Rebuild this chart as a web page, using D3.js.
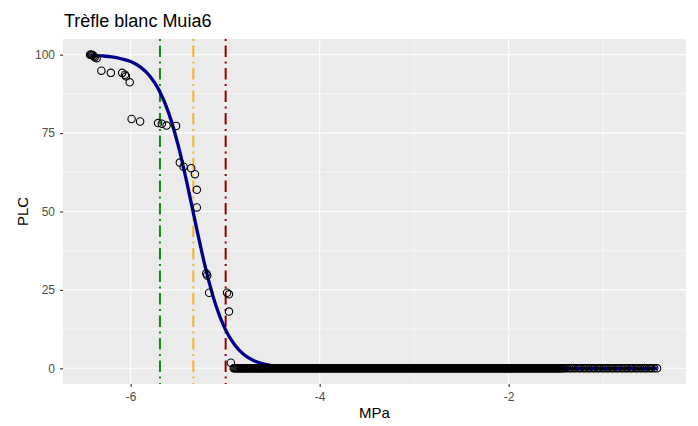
<!DOCTYPE html>
<html>
<head>
<meta charset="utf-8">
<script src="https://cdn.jsdelivr.net/npm/d3@7"></script>
<style>
  body { margin: 0; background: #fff; }
  text { font-family: "Liberation Sans", Arial, sans-serif; }
</style>
</head>
<body>
<div id="chart"></div>
<script>
// Width and height
var w = 698;
var h = 426;

// panel box
var pLeft = 63, pRight = 686, pTop = 39, pBottom = 384;

// observed points (MPa, PLC)
var obsX = [-6.43, -6.42, -6.41, -6.40, -6.39, -6.38, -6.36, -6.31, -6.21, -6.09, -6.06, -6.05, -6.01,
            -5.99, -5.90, -5.71, -5.67, -5.62, -5.52, -5.48, -5.44, -5.36, -5.32, -5.30, -5.30,
            -5.20, -5.19, -5.17, -4.98, -4.96, -4.96, -4.94];
var obsY = [100, 100, 100, 99.8, 99.5, 99.2, 98.9, 94.9, 94.2, 94.2, 93.6, 93.1, 91.2,
            79.5, 78.7, 78.2, 78.0, 77.4, 77.3, 65.6, 64.3, 63.8, 61.9, 56.9, 51.3,
            30.2, 29.6, 24.1, 24.1, 23.6, 18.1, 1.8];

// points with PLC = 0 (dense run, then a sparser tail)
var zeroX = [
  -4.91,-4.90,-4.89,-4.88,-4.87,-4.86,-4.85,-4.84,-4.83,-4.82,
  -4.81,-4.80,-4.79,-4.78,-4.77,-4.76,-4.75,-4.74,-4.73,-4.72,
  -4.71,-4.70,-4.69,-4.68,-4.67,-4.66,-4.65,-4.64,-4.63,-4.62,
  -4.61,-4.60,-4.59,-4.58,-4.57,-4.56,-4.55,-4.54,-4.53,-4.52,
  -4.51,-4.50,-4.49,-4.48,-4.47,-4.46,-4.45,-4.44,-4.43,-4.42,
  -4.41,-4.40,-4.39,-4.38,-4.37,-4.36,-4.35,-4.34,-4.33,-4.32,
  -4.31,-4.30,-4.29,-4.28,-4.27,-4.26,-4.25,-4.24,-4.23,-4.22,
  -4.21,-4.20,-4.19,-4.18,-4.17,-4.16,-4.15,-4.14,-4.13,-4.12,
  -4.11,-4.10,-4.09,-4.08,-4.07,-4.06,-4.05,-4.04,-4.03,-4.02,
  -4.01,-4.00,-3.99,-3.98,-3.97,-3.96,-3.95,-3.94,-3.93,-3.92,
  -3.91,-3.90,-3.89,-3.88,-3.87,-3.86,-3.85,-3.84,-3.83,-3.82,
  -3.81,-3.80,-3.79,-3.78,-3.77,-3.76,-3.75,-3.74,-3.73,-3.72,
  -3.71,-3.70,-3.69,-3.68,-3.67,-3.66,-3.65,-3.64,-3.63,-3.62,
  -3.61,-3.60,-3.59,-3.58,-3.57,-3.56,-3.55,-3.54,-3.53,-3.52,
  -3.51,-3.50,-3.49,-3.48,-3.47,-3.46,-3.45,-3.44,-3.43,-3.42,
  -3.41,-3.40,-3.39,-3.38,-3.37,-3.36,-3.35,-3.34,-3.33,-3.32,
  -3.31,-3.30,-3.29,-3.28,-3.27,-3.26,-3.25,-3.24,-3.23,-3.22,
  -3.21,-3.20,-3.19,-3.18,-3.17,-3.16,-3.15,-3.14,-3.13,-3.12,
  -3.11,-3.10,-3.09,-3.08,-3.07,-3.06,-3.05,-3.04,-3.03,-3.02,
  -3.01,-3.00,-2.99,-2.98,-2.97,-2.96,-2.95,-2.94,-2.93,-2.92,
  -2.91,-2.90,-2.89,-2.88,-2.87,-2.86,-2.85,-2.84,-2.83,-2.82,
  -2.81,-2.80,-2.79,-2.78,-2.77,-2.76,-2.75,-2.74,-2.73,-2.72,
  -2.71,-2.70,-2.69,-2.68,-2.67,-2.66,-2.65,-2.64,-2.63,-2.62,
  -2.61,-2.60,-2.59,-2.58,-2.57,-2.56,-2.55,-2.54,-2.53,-2.52,
  -2.51,-2.50,-2.49,-2.48,-2.47,-2.46,-2.45,-2.44,-2.43,-2.42,
  -2.41,-2.40,-2.39,-2.38,-2.37,-2.36,-2.35,-2.34,-2.33,-2.32,
  -2.31,-2.30,-2.29,-2.28,-2.27,-2.26,-2.25,-2.24,-2.23,-2.22,
  -2.21,-2.20,-2.19,-2.18,-2.17,-2.16,-2.15,-2.14,-2.13,-2.12,
  -2.11,-2.10,-2.09,-2.08,-2.07,-2.06,-2.05,-2.04,-2.03,-2.02,
  -2.01,-2.00,-1.99,-1.98,-1.97,-1.96,-1.95,-1.94,-1.93,-1.92,
  -1.91,-1.90,-1.89,-1.88,-1.87,-1.86,-1.85,-1.84,-1.83,-1.82,
  -1.81,-1.80,-1.79,-1.78,-1.77,-1.76,-1.75,-1.74,-1.73,-1.72,
  -1.71,-1.70,-1.69,-1.68,-1.67,-1.66,-1.65,-1.64,-1.63,-1.62,
  -1.61,-1.60,-1.59,-1.58,-1.57,-1.56,-1.55,-1.54,-1.53,-1.52,
  -1.51,-1.50,-1.49,-1.48,-1.47,-1.46,-1.45,-1.44,-1.43,
  -1.41,-1.39,-1.36,-1.34,-1.31,-1.29,-1.26,-1.24,-1.21,-1.19,
  -1.16,-1.14,-1.11,-1.09,-1.06,-1.04,-1.01,-0.99,-0.96,-0.94,
  -0.91,-0.89,-0.86,-0.84,-0.81,-0.79,-0.76,-0.74,-0.71,-0.69,
  -0.66,-0.64,-0.61,-0.59,-0.56,-0.54,-0.51,-0.49,-0.46,-0.43];

// fitted curve (MPa, PLC)
var fitX = [-6.42, -6.3, -6.2, -6.1, -6.0, -5.9, -5.8, -5.7, -5.6, -5.5, -5.4, -5.3,
            -5.2, -5.1, -5.0, -4.9, -4.8, -4.7, -4.6, -4.5, -4.3, -4.0, -3.0, -0.43];
var fitY = [99.8, 99.6, 99.3, 98.7, 97.8, 96.1, 93.3, 88.7, 81.6, 71.4, 58.5, 44.3,
            31.0, 20.2, 12.5, 7.5, 4.3, 2.5, 1.4, 0.8, 0.26, 0.05, 0, 0];

// reference pressures (P88, P50, P12)
var refX = [-5.69, -5.337, -4.995];
var refColors = ["#138B13", "#F0B52A", "#8B0000"];

var xTicks = [-6, -4, -2];
var xMinor = [-5, -3, -1];
var yTicks = [0, 25, 50, 75, 100];
var yMinor = [12.5, 37.5, 62.5, 87.5];

var x = d3.scaleLinear().domain([-6.716, -0.124]).range([pLeft, pRight]);
var y = d3.scaleLinear().domain([-5, 105]).range([pBottom, pTop]);

var svg = d3.select("#chart")
  .append("svg")
  .attr("width", w)
  .attr("height", h);

// panel background
svg.append("rect")
  .attr("x", pLeft).attr("y", pTop)
  .attr("width", pRight - pLeft).attr("height", pBottom - pTop)
  .attr("fill", "#EBEBEB");

// minor grid
svg.selectAll(".xminor").data(xMinor).enter().append("line")
  .attr("x1", d => x(d)).attr("x2", d => x(d))
  .attr("y1", pTop).attr("y2", pBottom)
  .attr("stroke", "#fff").attr("stroke-width", 0.55);
svg.selectAll(".yminor").data(yMinor).enter().append("line")
  .attr("x1", pLeft).attr("x2", pRight)
  .attr("y1", d => y(d)).attr("y2", d => y(d))
  .attr("stroke", "#fff").attr("stroke-width", 0.55);

// major grid
svg.selectAll(".xmajor").data(xTicks).enter().append("line")
  .attr("x1", d => x(d)).attr("x2", d => x(d))
  .attr("y1", pTop).attr("y2", pBottom)
  .attr("stroke", "#fff").attr("stroke-width", 1.1);
svg.selectAll(".ymajor").data(yTicks).enter().append("line")
  .attr("x1", pLeft).attr("x2", pRight)
  .attr("y1", d => y(d)).attr("y2", d => y(d))
  .attr("stroke", "#fff").attr("stroke-width", 1.1);

// reference vertical lines
svg.selectAll(".vref").data(refX).enter().append("line")
  .attr("x1", d => x(d)).attr("x2", d => x(d))
  .attr("y1", pTop).attr("y2", pBottom)
  .attr("stroke", (d, i) => refColors[i])
  .attr("stroke-width", 2)
  .attr("stroke-dasharray", "2,4.5,11.5,4.5");

// fitted curve (under the points)
var line = d3.line()
  .x(d => x(d[0])).y(d => y(d[1]))
  .curve(d3.curveMonotoneX);
svg.append("path")
  .datum(fitX.map((v, i) => [v, fitY[i]]))
  .attr("d", line)
  .attr("fill", "none")
  .attr("stroke", "#00008B")
  .attr("stroke-width", 3.3);

// points
var pts = obsX.map((v, i) => [v, obsY[i]]).concat(zeroX.map(v => [v, 0]));
svg.selectAll(".pt").data(pts).enter().append("circle")
  .attr("cx", d => x(d[0]))
  .attr("cy", d => y(d[1]))
  .attr("r", 3.7)
  .attr("fill", "none")
  .attr("stroke", "#000")
  .attr("stroke-width", 1.1);

// axes
var xAxis = svg.append("g")
  .attr("transform", "translate(0," + pBottom + ")")
  .call(d3.axisBottom(x).tickValues(xTicks).tickSize(3).tickPadding(5.5));
var yAxis = svg.append("g")
  .attr("transform", "translate(" + pLeft + ",0)")
  .call(d3.axisLeft(y).tickValues(yTicks).tickSize(3).tickPadding(5));

[xAxis, yAxis].forEach(function(g) {
  g.select(".domain").remove();
  g.selectAll(".tick line").attr("stroke", "#333").attr("stroke-width", 1.1);
  g.selectAll(".tick text")
    .attr("fill", "#4D4D4D")
    .style("font-size", "12px")
    .style("font-family", "'Liberation Sans', Arial, sans-serif")
    .text(d => String(d));
});

// axis titles
svg.append("text")
  .attr("x", (pLeft + pRight) / 2)
  .attr("y", 418)
  .attr("text-anchor", "middle")
  .style("font-size", "15px")
  .attr("fill", "#000")
  .text("MPa");

svg.append("text")
  .attr("transform", "translate(28," + ((pTop + pBottom) / 2) + ") rotate(-90)")
  .attr("text-anchor", "middle")
  .style("font-size", "15px")
  .attr("fill", "#000")
  .text("PLC");

// title
svg.append("text")
  .attr("x", 64)
  .attr("y", 27)
  .style("font-size", "18px")
  .attr("fill", "#000")
  .text("Trèfle blanc Muia6");
</script>
</body>
</html>
